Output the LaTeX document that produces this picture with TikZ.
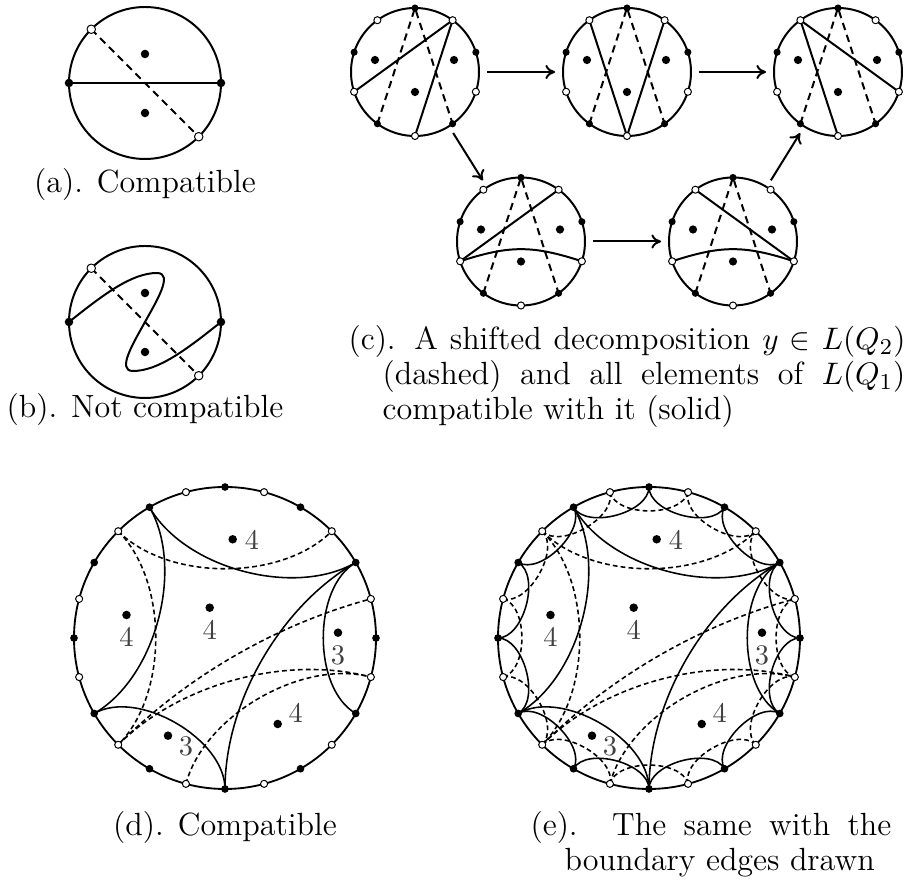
\documentclass[tikz,border=0pt]{standalone}
\usetikzlibrary{arrows.meta}
\newcommand\myArcs[3]{%
  \foreach \a/\b in {#2}{%
    \pgfmathsetmacro\oa{\a+180}\pgfmathsetmacro\ob{\b+180}%
    \draw[#3] (#1.\a) to[out=\oa,in=\ob,looseness=0.85] (#1.\b);}}
\newcommand\myInner[1]{%
  \node[bpt=3pt] (#1-i1) at ([shift={(7.7,-98.7)}]#1.center) {};
  \node[lbl] (#1-l1) at ([shift={(27,-98)}]#1.center) {4};
  \node[bpt=3pt] (#1-i2) at ([shift={(-98.5,-23)}]#1.center) {};
  \node[lbl] (#1-l2) at ([shift={(-98.5,-1)}]#1.center) {4};
  \node[bpt=3pt] (#1-i3) at ([shift={(-15.3,-30.3)}]#1.center) {};
  \node[lbl] (#1-l3) at ([shift={(-15.3,-8)}]#1.center) {4};
  \node[bpt=3pt] (#1-i4) at ([shift={(113,-5.3)}]#1.center) {};
  \node[lbl] (#1-l4) at ([shift={(113,17)}]#1.center) {3};
  \node[bpt=3pt] (#1-i5) at ([shift={(52.7,86)}]#1.center) {};
  \node[lbl] (#1-l5) at ([shift={(70.7,75.3)}]#1.center) {4};
  \node[bpt=3pt] (#1-i6) at ([shift={(-57,97.7)}]#1.center) {};
  \node[lbl] (#1-l6) at ([shift={(-39,108.7)}]#1.center) {3};}
\newcommand\myPts[1]{%
  \foreach \t in {0,30,...,330} \node[bpt=2.7pt] (#1-b\t) at (#1.\t) {};
  \foreach \t in {15,45,...,345} \node[wpt=2.5pt] (#1-w\t) at (#1.\t) {};}
\begin{document}
\begin{tikzpicture}[x=0.352pt,y=-0.352pt,line join=round,
  outl/.style={circle,draw,inner sep=0pt,outer sep=0pt},
  thk/.style={line width=0.7pt},
  thn/.style={line width=0.55pt},
  sdash/.style={dash pattern=on 2.6pt off 1.8pt},
  fdash/.style={dash pattern=on 1.7pt off 1.1pt},
  bpt/.style={circle,fill=black,inner sep=0pt,outer sep=0pt,minimum size=#1},
  wpt/.style={circle,draw=black,fill=white,line width=0.35pt,inner sep=0pt,outer sep=0pt,minimum size=#1},
  lbl/.style={text=black!75,inner sep=0pt},
  captxt/.style={inner sep=0pt,font=\fontsize{11.3}{13.9}\selectfont},
  arr/.style={thk,-{To[length=3.4pt,width=5pt]},shorten >=2.8pt,shorten <=2.8pt}]
\useasboundingbox (0,0) rectangle (907,888);

% ---------- (a)
\node[outl,thk,minimum size=152*0.352pt] (a) at (145,83) {};
\draw[thk,sdash] (a.135) -- (a.315);
\draw[thk] (a.180) -- (a.0);
\node[bpt=3pt] (a-l) at (a.180) {};
\node[bpt=3pt] (a-r) at (a.0) {};
\node[wpt=3pt] (a-u) at (a.135) {};
\node[wpt=3pt] (a-d) at (a.315) {};
\node[bpt=3pt] (a-i1) at (145,54) {};
\node[bpt=3pt] (a-i2) at (145,113) {};
\node[captxt,anchor=base] (a-cap) at (145,193) {(a). Compatible};

% ---------- (b)
\node[outl,thk,minimum size=152*0.352pt] (b) at (145,322) {};
\draw[thk,sdash] (b.135) -- (b.315);
\draw[thk] (b.180) .. controls (104,294) and (132,273) .. (157,273)
  .. controls (174,273) and (156,302) .. (145,322)
  .. controls (134,342) and (116,371) .. (133,371)
  .. controls (158,371) and (186,350) .. (b.0);
\node[bpt=3pt] (b-l) at (b.180) {};
\node[bpt=3pt] (b-r) at (b.0) {};
\node[wpt=3pt] (b-u) at (b.135) {};
\node[wpt=3pt] (b-d) at (b.315) {};
\node[bpt=3pt] (b-i1) at (145,293) {};
\node[bpt=3pt] (b-i2) at (145,352) {};
\node[captxt,anchor=base] (b-cap) at (145,418) {(b). Not compatible};

% ---------- (c)
\foreach \n/\x/\y in {c1/415/72,c2/627/72,c3/838/72,c4/521/241.5,c5/733/241.5}{
  \node[outl,thk,minimum size=128*0.352pt] (\n) at (\x,\y) {};
  \draw[thk,sdash] (\n.234) -- (\n.90) -- (\n.306);
}
\draw[thk] (c1.198) -- (c1.54) -- (c1.270);
\draw[thk] (c2.126) -- (c2.270) -- (c2.54);
\draw[thk] (c3.342) -- (c3.126) -- (c3.270);
\draw[thk] (c4.198) -- (c4.54);
\draw[thk] (c4.198) to[out=18,in=162,looseness=1.1] (c4.342);
\draw[thk] (c5.126) -- (c5.342);
\draw[thk] (c5.198) to[out=18,in=162,looseness=1.1] (c5.342);
\foreach \n in {c1,c2,c3,c4,c5}{
  \foreach \t in {18,90,162,234,306} \node[bpt=2.5pt] (\n-b\t) at (\n.\t) {};
  \foreach \t in {54,126,198,270,342} \node[wpt=2.5pt] (\n-w\t) at (\n.\t) {};
  \node[bpt=2.9pt] (\n-i1) at ([shift={(-40,-12)}]\n.center) {};
  \node[bpt=2.9pt] (\n-i2) at ([shift={(39,-12)}]\n.center) {};
  \node[bpt=2.9pt] (\n-i3) at ([shift={(0,20)}]\n.center) {};
}
\draw[arr] (c1) -- (c2);
\draw[arr] (c2) -- (c3);
\draw[arr] (c1) -- (c4);
\draw[arr] (c4) -- (c5);
\draw[arr] (c5) -- (c3);
\node[captxt,anchor=base west] (c-cap1) at (348,350) {\makebox[196pt][s]{(c). A shifted decomposition $y\in L(Q_2)$}};
\node[captxt,anchor=base west] (c-cap2) at (382,385) {\makebox[184pt][s]{(dashed) and all elements of $L(Q_1)$}};
\node[captxt,anchor=base west] (c-cap3) at (382,420) {compatible with it (solid)};

% ---------- (d)
\node[outl,line width=0.65pt,minimum size=302*0.352pt] (d) at (225,638) {};
\myArcs{d}{120/30,120/210,210/270,270/30,30/330}{thn}
\myArcs{d}{135/45,135/225,225/15,225/345,255/345}{thn,fdash}
\myPts{d}
\myInner{d}
\node[captxt,anchor=base] (d-cap) at (225,836) {(d). Compatible};

% ---------- (e)
\node[outl,line width=0.65pt,minimum size=302*0.352pt] (e) at (649,638) {};
\myArcs{e}{120/30,120/210,210/270,270/30,30/330}{thn}
\myArcs{e}{135/45,135/225,225/15,225/345,255/345}{thn,fdash}
\myArcs{e}{30/0,60/30,90/60,120/90,150/120,180/150,210/180,240/210,270/240,300/270,330/300,360/330}{thn}
\myArcs{e}{45/15,75/45,105/75,135/105,165/135,195/165,225/195,255/225,285/255,315/285,345/315,15/345}{thn,fdash}
\myPts{e}
\myInner{e}
\node[captxt,anchor=base west] (e-cap1) at (530,836) {\makebox[127pt][s]{(e). The same with the}};
\node[captxt,anchor=base west] (e-cap2) at (564,871) {boundary edges drawn};
\end{tikzpicture}
\end{document}
